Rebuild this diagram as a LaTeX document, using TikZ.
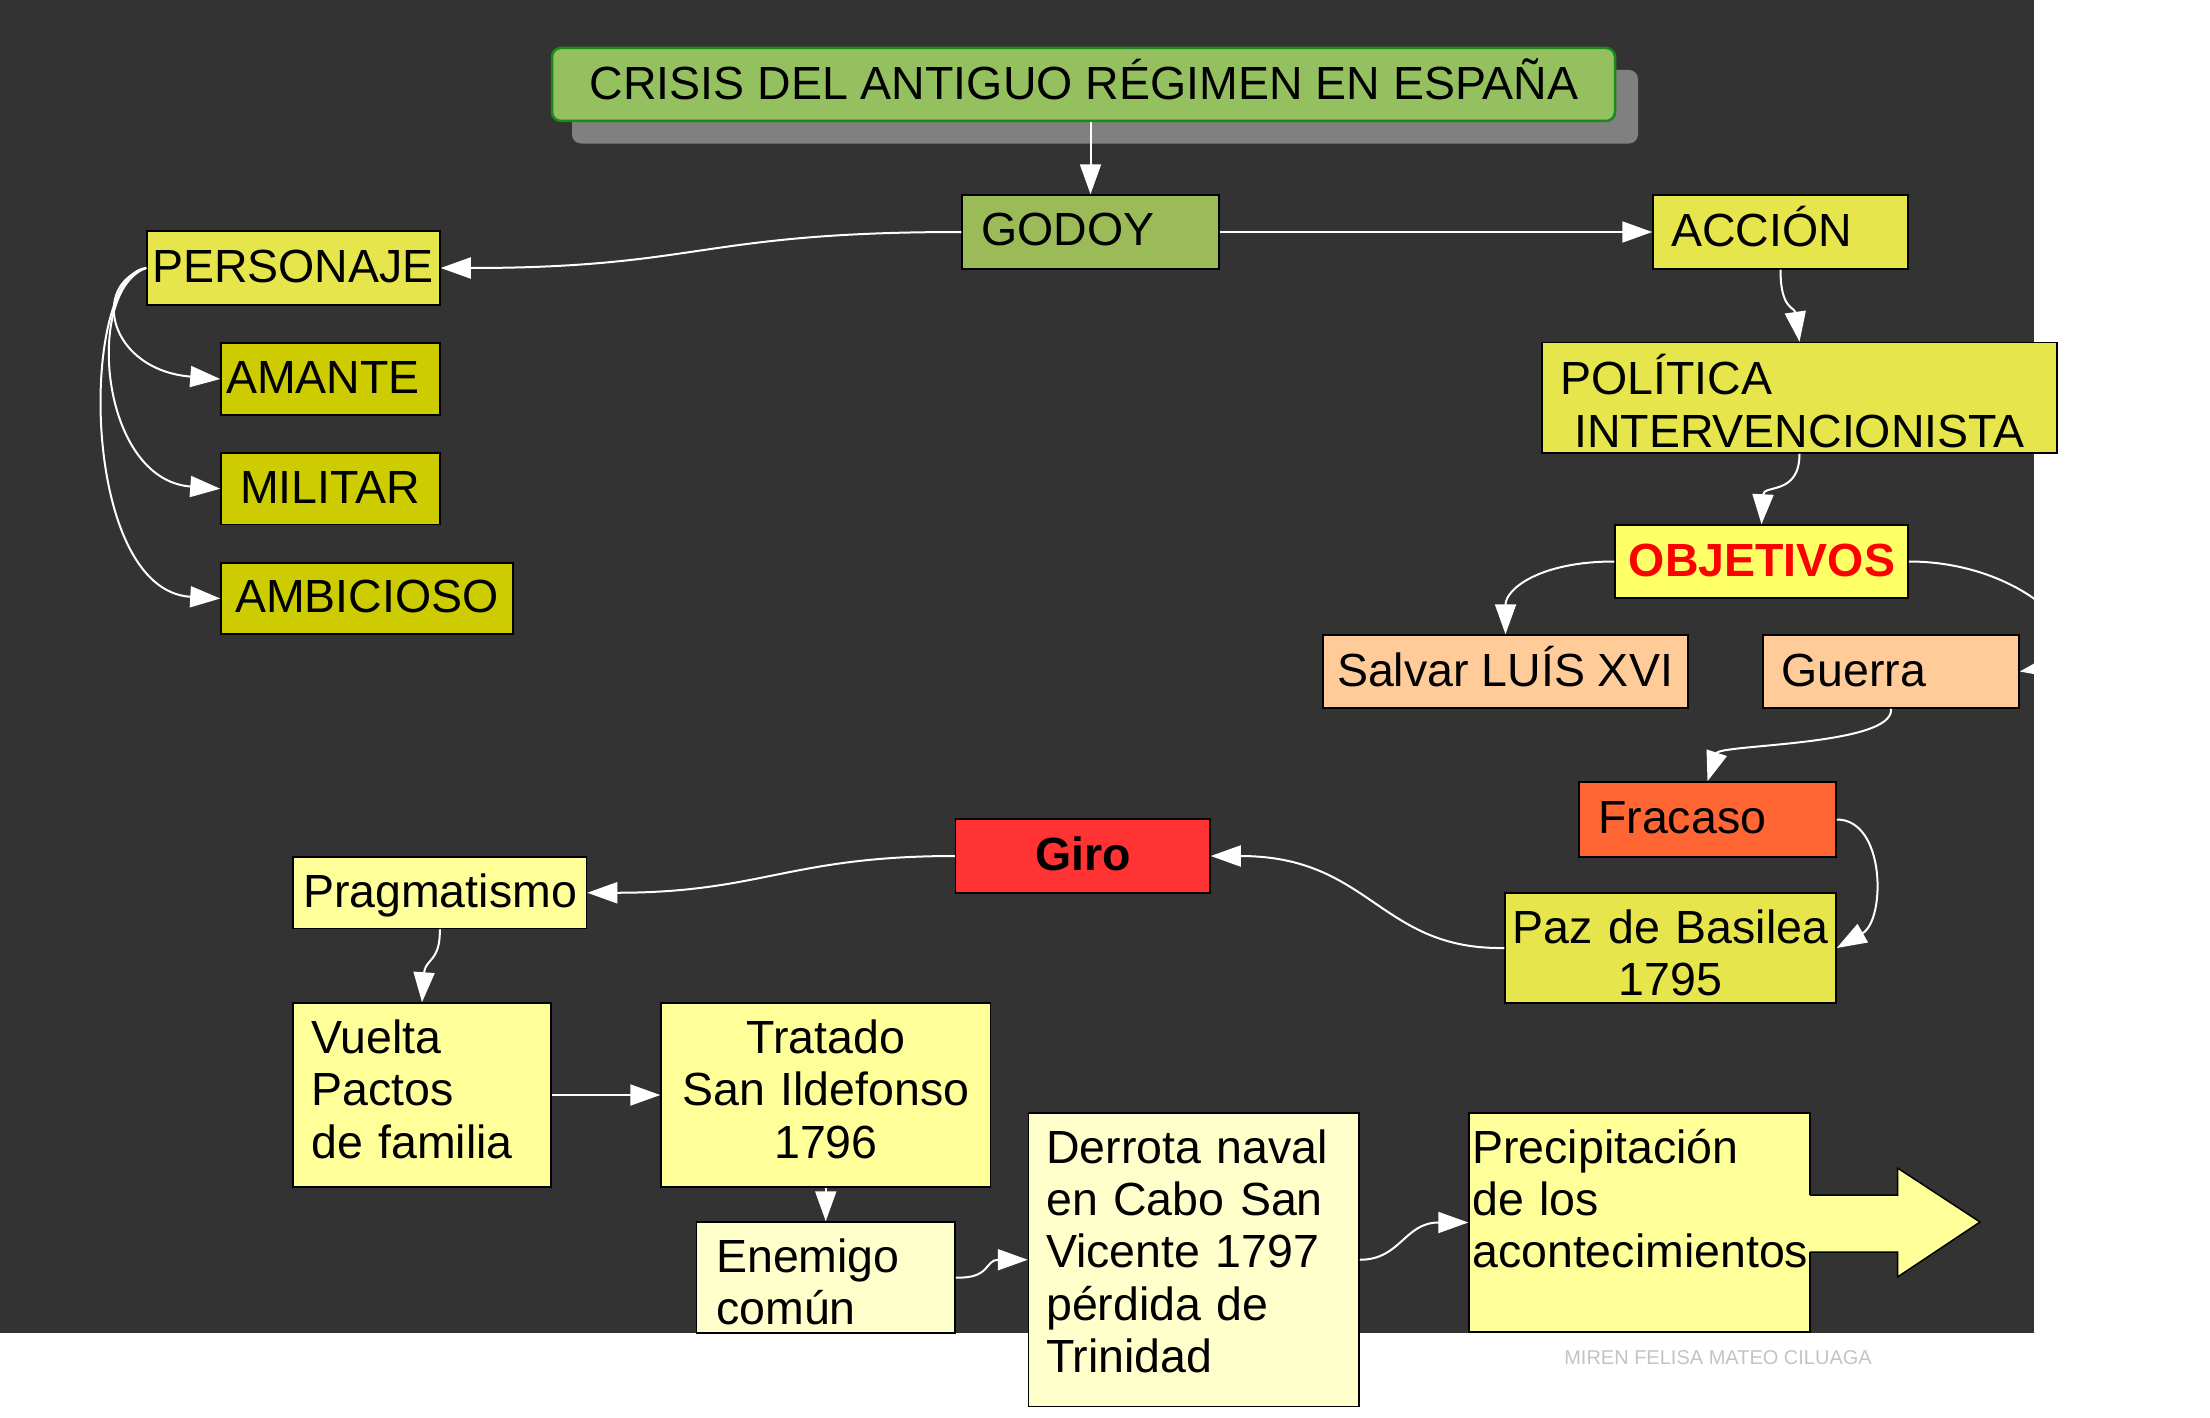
\documentclass[tikz,border=0pt]{standalone}
\usepackage{fontspec}
\setmainfont{Liberation Sans}
\usetikzlibrary{arrows.meta}
\definecolor{bgdark}{HTML}{333333}
\definecolor{titlefill}{HTML}{95C05F}
\definecolor{titleborder}{HTML}{1A8A1A}
\definecolor{shadowgray}{HTML}{808080}
\definecolor{godoyfill}{HTML}{9BBB59}
\definecolor{yellowA}{HTML}{E6E64C}
\definecolor{oliveY}{HTML}{CCCC00}
\definecolor{objfill}{HTML}{FFFF66}
\definecolor{peach}{HTML}{FFCC99}
\definecolor{fracfill}{HTML}{FF6633}
\definecolor{girofill}{HTML}{FF3333}
\definecolor{lightY}{HTML}{FFFF99}
\definecolor{paleY}{HTML}{FFFFCC}
\definecolor{wmark}{HTML}{C4C4C4}
\begin{document}
\begin{tikzpicture}[x=1pt,y=-1pt,
  box/.style={draw=black, line width=1.5pt, rectangle, inner sep=0pt},
  txt/.style={inner sep=0pt, font=\fontsize{46.5}{52.4}\selectfont, text=black},
  txtL/.style={txt, anchor=base west, text width=700pt, align=left},
  txtC/.style={txt, anchor=base, text width=500pt, align=center},
  con/.style={draw=white, line width=2pt, -{Triangle[length=30pt,width=21pt,fill=white]}},
]
\useasboundingbox (0,0) rectangle (2210,1418);
\fill[white] (0,0) rectangle (2210,1418);
\fill[bgdark] (0,0) rectangle (2034,1333);

% title
\fill[shadowgray, rounded corners=9pt] (572,70) rectangle (1638,143.5);
\node[box, draw=titleborder, line width=2.5pt, fill=titlefill, rounded corners=9pt, minimum width=1063pt, minimum height=73pt] (T) at (1083.5,84.5) {};
\node[txt, anchor=base] (tT) at (1084,100) {CRISIS DEL ANTIGUO RÉGIMEN EN ESPAÑA};

% boxes
\node[box, fill=godoyfill, minimum width=257pt, minimum height=74pt] (G) at (1090.5,232) {};
\node[box, fill=yellowA, minimum width=255pt, minimum height=74pt] (A) at (1780.5,232) {};
\node[box, fill=yellowA, minimum width=515pt, minimum height=110.5pt] (Pol) at (1799.5,397.75) {};
\node[box, fill=objfill, minimum width=293pt, minimum height=73pt] (Obj) at (1761.5,561.5) {};
\node[box, fill=peach, minimum width=365pt, minimum height=73pt] (Sal) at (1505.5,671.5) {};
\node[box, fill=peach, minimum width=256pt, minimum height=73pt] (Gue) at (1891,671.5) {};
\node[box, fill=fracfill, minimum width=257pt, minimum height=75pt] (Fra) at (1707.5,819.5) {};
\node[box, fill=yellowA, minimum width=331pt, minimum height=110pt] (Paz) at (1670.5,948) {};
\node[box, fill=girofill, minimum width=254.5pt, minimum height=74pt] (Giro) at (1082.75,856) {};
\node[box, fill=yellowA, minimum width=293pt, minimum height=74pt] (Pers) at (293.5,268) {};
\node[box, fill=oliveY, minimum width=219pt, minimum height=72pt] (Am) at (330.5,379) {};
\node[box, fill=oliveY, minimum width=219pt, minimum height=71.5pt] (Mil) at (330.5,488.75) {};
\node[box, fill=oliveY, minimum width=292pt, minimum height=71pt] (Amb) at (367,598.5) {};
\node[box, fill=lightY, minimum width=293.5pt, minimum height=71.5pt] (Prag) at (439.75,892.75) {};
\node[box, fill=lightY, minimum width=258pt, minimum height=184pt] (Vue) at (422,1095) {};
\node[box, fill=lightY, minimum width=329.5pt, minimum height=184pt] (Tra) at (825.75,1095) {};
\node[box, fill=paleY, minimum width=258.5pt, minimum height=111pt] (Ene) at (825.75,1277.5) {};
\node[box, fill=paleY, minimum width=330.5pt, minimum height=293.5pt] (Der) at (1193.75,1259.75) {};
\node[box, fill=lightY, minimum width=341pt, minimum height=219pt] (Pre) at (1639.5,1222.5) {};

% big arrow attached to Precipitacion
\fill[lightY] (1806,1195) -- (1897.5,1195) -- (1897.5,1168) -- (1980,1222) -- (1897.5,1277) -- (1897.5,1252) -- (1806,1252) -- cycle;
\draw[black, line width=1.5pt, line join=miter] (1810,1195) -- (1897.5,1195) -- (1897.5,1168) -- (1980,1222) -- (1897.5,1277) -- (1897.5,1252) -- (1810,1252);

% texts
\node[txt, anchor=base west] (tG) at (981,245) {GODOY};
\node[txt, anchor=base west] (tA) at (1671,246) {ACCIÓN};
\node[txtL] (tPol) at (1560,394.6) {POLÍTICA\\\hspace*{14pt}INTERVENCIONISTA};
\node[txt, anchor=base, font=\fontsize{46.5}{52.4}\selectfont\bfseries, text=red] (tObj) at (1762,576.5) {OBJETIVOS};
\node[txt, anchor=base] (tSal) at (1505,686.6) {Salvar LUÍS XVI};
\node[txt, anchor=base west] (tGue) at (1781,686.6) {Guerra};
\node[txt, anchor=base west] (tFra) at (1598,833) {Fracaso};
\node[txtC] (tPaz) at (1670.5,943) {Paz de Basilea\\1795};
\node[txt, anchor=base, font=\fontsize{46.5}{52.4}\selectfont\bfseries] (tGiro) at (1083,870) {Giro};
\node[txt, anchor=base] (tPers) at (293,282) {PERSONAJE};
\node[txt, anchor=base west] (tAm) at (226,393) {AMANTE};
\node[txt, anchor=base] (tMil) at (330,503) {MILITAR};
\node[txt, anchor=base] (tAmb) at (367,612.5) {AMBICIOSO};
\node[txt, anchor=base] (tPrag) at (440,907) {Pragmatismo};
\node[txtL] (tVue) at (311,1053.5) {Vuelta\\Pactos\\de familia};
\node[txtC] (tTra) at (826,1053.5) {Tratado\\San Ildefonso\\1796};
\node[txtL] (tEne) at (716,1272) {Enemigo\\común};
\node[txtL] (tDer) at (1046,1163) {Derrota naval\\en Cabo San\\Vicente 1797\\pérdida de\\Trinidad};
\node[txtL] (tPre) at (1472,1163) {Precipitación\\de los\\acontecimientos};
\node[inner sep=0pt, anchor=base, font=\fontsize{20}{24}\selectfont, text=wmark] (wm) at (1718,1364) {MIREN FELISA MATEO CILUAGA};

% connectors
\draw[con] (G.north |- T.south) -- (G.north);
\draw[con] (G.west) .. controls +(-262,0) and +(260,0) .. (Pers.east);
\draw[con] (G.east) -- (A.west);
\draw[con] (Pers.west) .. controls +(-57,17) and +(-111,-9) .. (Am.west);
\draw[con] (Pers.west) .. controls +(-62,22) and +(-121,-9) .. (Mil.west);
\draw[con] (Pers.west) .. controls +(-67,7) and +(-141,-8) .. (Amb.west);
\draw[con] (A.south) .. controls +(0,40) and +(-5,-35) .. (Pol.north);
\draw[con] (Pol.south) .. controls +(0,42) and +(2,-40) .. (Obj.north);
\draw[con] (Obj.west) .. controls +(-75,0) and +(0,-45) .. (Sal.north);
\draw[con] (Obj.east) .. controls +(125,0) and +(90,-15) .. (Gue.east);
\draw[con] (Gue.south) .. controls +(4,37) and +(12,-37) .. (Fra.north);
\draw[con] (Fra.east) .. controls +(49,0) and +(49,-28) .. (Paz.east);
\draw[con] (Paz.west) .. controls +(-125,2) and +(160,0) .. (Giro.east);
\draw[con] (Giro.west) .. controls +(-165,0) and +(174,0) .. (Prag.east);
\draw[con] (Prag.south) .. controls +(1,32) and +(3,-43) .. (Vue.north);
\draw[con] (Vue.east) -- (Tra.west);
\draw[con] (Tra.south) -- (Ene.north);
\draw[con] (Ene.east) .. controls +(35,1.5) and +(-43,0) .. (Der.west);
\draw[con] (Der.east) .. controls +(41,0) and +(-64,0) .. (Pre.west);
\end{tikzpicture}
\end{document}
